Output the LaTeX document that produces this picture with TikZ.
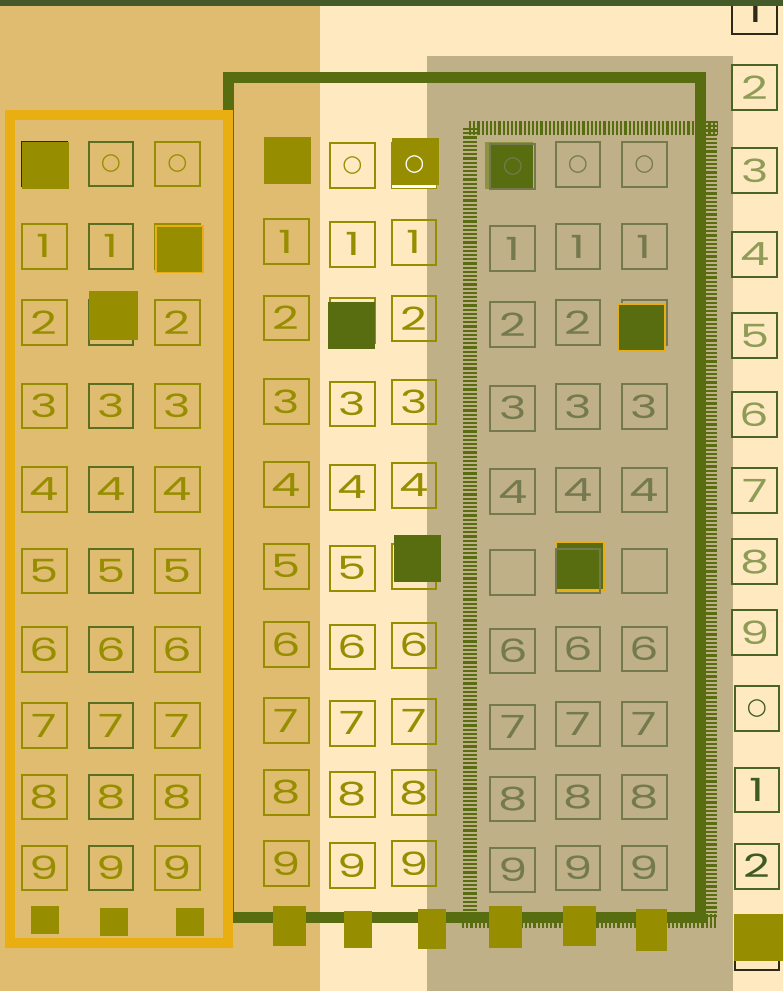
\documentclass[tikz,border=0pt]{standalone}
\usepackage{fontspec}
\newfontfamily\dgfont[FakeStretch=1.45]{Poppins}
\newfontfamily\symfont{DejaVu Sans}
\definecolor{tanc}{HTML}{DFBC6F}
\definecolor{cream}{HTML}{FEE9C0}
\definecolor{grayc}{HTML}{BFB088}
\definecolor{topbar}{HTML}{445A28}
\definecolor{grn}{HTML}{586C10}
\definecolor{org}{HTML}{E8AE12}
\definecolor{olv}{HTML}{978D00}
\definecolor{grA}{HTML}{5A7020}
\definecolor{gC}{HTML}{747A4E}
\definecolor{ltol}{HTML}{8C9442}
\definecolor{rcB}{HTML}{4A6426}
\definecolor{rcT}{HTML}{8E9C58}
\definecolor{rcD}{HTML}{3E5C22}
\definecolor{dkb}{HTML}{2E2A18}
\newcommand\zro{{\symfont\fontsize{23}{23}\selectfont ○}}
\tikzset{
  bxs/.style={draw, line width=1.9pt, minimum size=44.8pt, inner sep=0pt, font=\dgfont\fontsize{32}{32}\selectfont},
  aO/.style={bxs, draw=olv, text=olv},
  aG/.style={bxs, draw=grA, text=olv},
  cC/.style={bxs, draw=gC, text=gC},
  rL/.style={bxs, draw=rcB, text=rcT},
  rD/.style={bxs, draw=rcB, text=rcD},
  hatchline/.style={draw=grn, dash pattern=on 2.2pt off 2pt},
  sq/.style={fill=olv},
}
\begin{document}
\begin{tikzpicture}[x=1pt,y=-1pt]
\useasboundingbox (0,0) rectangle (783,991);
% backgrounds
\fill[tanc] (0,0) rectangle (320,991);
\fill[cream] (320,0) rectangle (783,991);
\fill[grayc] (427,56) rectangle (733,991);
% hatched frame
\draw[hatchline, line width=14pt] (469.5,128) -- (469.5,912);
\draw[hatchline, line width=14pt] (469,127.7) -- (717,127.7);
\draw[hatchline, line width=11pt] (711.5,121) -- (711.5,918);
\draw[hatchline, line width=14pt] (462,921) -- (717,921);
% green and orange frames
\draw[grn, line width=11pt] (228.5,77.5) rectangle (700.5,917.7);
\draw[org, line width=10pt] (10,115) rectangle (228.3,943);

% ---------- group A ----------
\node[bxs, draw=dkb] (a1-0) at (44.3,164) {};
\fill[olv] (22,142.3) rectangle (69,189);
\foreach \d/\y in {1/246.3,2/322.8,3/406,4/489.5,5/571,6/649.5,7/725.5,8/797,9/868}
  \node[aO] (a1-\d) at (44.3,\y) {\d};
\node[aG] (a2-0) at (111,164) {\zro};
\node[aG] (a2-1) at (111,246.3) {1};
\node[aG] (a2-2) at (111,322.8) {};
\fill[olv] (89,291) rectangle (138,340);
\foreach \d/\y in {3/406,4/489.5,5/571,6/649.5,7/725.5,8/797,9/868}
  \node[aG] (a2-\d) at (111,\y) {\d};
\node[aO] (a3-0) at (177.3,164) {\zro};
\node[aO] (a3-1) at (177.3,246.3) {};
\filldraw[fill=olv, draw=org, line width=1.5pt] (156,226) rectangle (203.2,272.5);
\foreach \d/\y in {2/322.8,3/406,4/489.5,5/571,6/649.5,7/725.5,8/797,9/868}
  \node[aO] (a3-\d) at (177.3,\y) {\d};

% ---------- group B ----------
\fill[olv] (264,136.7) rectangle (311,184);
\foreach \d/\y in {1/241.7,2/318,3/401.3,4/484.8,5/566.2,6/644.5,7/720.7,8/792.2,9/863.7}
  \node[aO] (b1-\d) at (286.2,\y) {\d};
\node[aO] (b2-0) at (352.5,165.5) {\zro};
\node[aO] (b2-1) at (352.5,244.3) {1};
\node[aO] (b2-2) at (352.5,320.5) {};
\fill[grn] (328,302) rectangle (375,348.7);
\foreach \d/\y in {3/404,4/487.3,5/568.3,6/647,7/723.3,8/794.5,9/865.7}
  \node[aO] (b2-\d) at (352.5,\y) {\d};
\node[aO] (b3-0) at (414,165.3) {};
\fill[olv] (392,138) rectangle (439,185);
\draw[white, line width=2.7pt] (392,186.3) -- (436,186.3);
\node[bxs, draw=none, text=white] (b3-0t) at (414.3,164.7) {\zro};
\foreach \d/\y in {1/242.2,2/318.7,3/402,4/485.5}
  \node[aO] (b3-\d) at (414,\y) {\d};
\node[aO] (b3-5) at (414,566.5) {};
\fill[grn] (394,535) rectangle (441,581.7);
\foreach \d/\y in {6/645.2,7/721.2,8/792.8,9/863.7}
  \node[aO] (b3-\d) at (414,\y) {\d};

% ---------- group C ----------
\fill[ltol] (485.3,141.7) rectangle (533.3,189.3);
\fill[grn] (489,145) rectangle (533,188);
\node[cC] (c1-0) at (512.8,166.3) {\zro};
\foreach \d/\y in {1/248.5,2/324.5,3/408.2,4/491.7}
  \node[cC] (c1-\d) at (512.8,\y) {\d};
\node[cC] (c1-5) at (512.8,572.8) {};
\foreach \d/\y in {6/651,7/727,8/799,9/870}
  \node[cC] (c1-\d) at (512.8,\y) {\d};
\node[cC] (c2-0) at (578,164.5) {\zro};
\foreach \d/\y in {1/246.8,2/322.8,3/406.3,4/490}
  \node[cC] (c2-\d) at (578,\y) {\d};
\filldraw[fill=grn, draw=org, line width=1.6pt] (556.5,542.5) rectangle (604.2,589.8);
\node[cC] (c2-5) at (578,571) {};
\foreach \d/\y in {6/649,7/724,8/797,9/868}
  \node[cC] (c2-\d) at (578,\y) {\d};
\node[cC] (c3-0) at (644.3,164.5) {\zro};
\node[cC] (c3-1) at (644.3,246.8) {1};
\node[cC] (c3-2) at (644.3,322.8) {};
\filldraw[fill=grn, draw=org, line width=1.6pt] (618.2,303.8) rectangle (665.2,351.2);
\foreach \d/\y in {3/406.3,4/490}
  \node[cC] (c3-\d) at (644.3,\y) {\d};
\node[cC] (c3-5) at (644.3,571) {};
\foreach \d/\y in {6/649,7/724,8/797,9/868}
  \node[cC] (c3-\d) at (644.3,\y) {\d};

% ---------- right column ----------
\node[bxs, draw=dkb, text=dkb] (r-1a) at (754.7,11.3) {1};
\foreach \d/\y in {2/87.5,3/170.8,4/254.5,5/335.5,6/414.5,7/490.8,8/561.8,9/632.8}
  \node[rL] (r-\d) at (754.7,\y) {\d};
\node[rD] (r-0) at (757,708.2) {\zro};
\node[rD] (r-1b) at (757,790) {1};
\node[rD] (r-2b) at (757,866.2) {2};
\node[bxs, draw=dkb] (r-end) at (757,948) {};
\fill[olv] (734,914) rectangle (783,961);

% ---------- bottom squares ----------
\fill[sq] (31,906) rectangle (59,934);
\fill[sq] (100,908) rectangle (128,936);
\fill[sq] (176,908) rectangle (204,936);
\fill[sq] (272.5,906) rectangle (305.5,946);
\fill[sq] (343.5,910.7) rectangle (371.5,948);
\fill[sq] (417.5,909) rectangle (445.5,949);
\fill[sq] (488.5,906) rectangle (521.5,948);
\fill[sq] (562.5,906) rectangle (595.5,946);
\fill[sq] (636,909) rectangle (667,951);

% top bar
\fill[topbar] (0,0) rectangle (783,5.5);
\end{tikzpicture}
\end{document}
